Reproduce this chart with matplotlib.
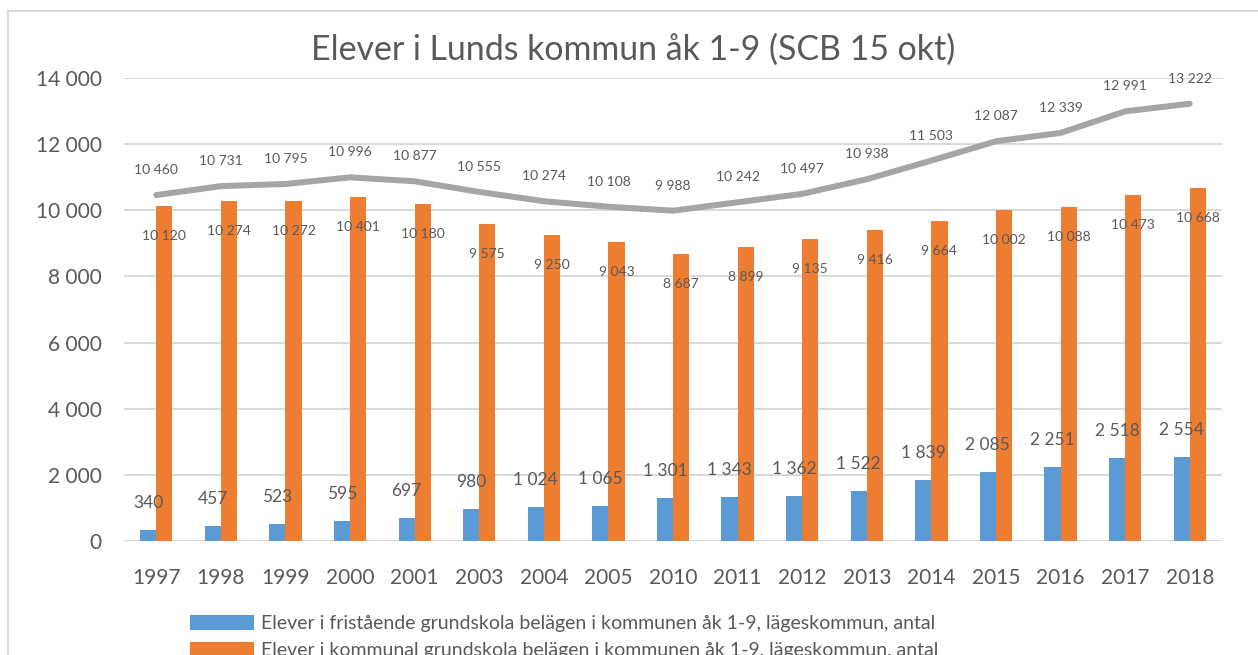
import matplotlib
matplotlib.use("Agg")
import matplotlib.pyplot as plt
from matplotlib.patches import Rectangle, Patch
import numpy as np

years = ["1997", "1998", "1999", "2000", "2001", "2003", "2004", "2005", "2010",
         "2011", "2012", "2013", "2014", "2015", "2016", "2017", "2018"]
fristaende = [340, 457, 523, 595, 697, 980, 1024, 1065, 1301, 1343, 1362, 1522,
              1839, 2085, 2251, 2518, 2554]
kommunal = [10120, 10274, 10272, 10401, 10180, 9575, 9250, 9043, 8687, 8899,
            9135, 9416, 9664, 10002, 10088, 10473, 10668]
totalt = [10460, 10731, 10795, 10996, 10877, 10555, 10274, 10108, 9988, 10242,
          10497, 10938, 11503, 12087, 12339, 12991, 13222]
yticks = [0, 2000, 4000, 6000, 8000, 10000, 12000, 14000]
title = "Elever i Lunds kommun åk 1-9 (SCB 15 okt)"
leg_labels = ["Elever i fristående grundskola belägen i kommunen åk 1-9, lägeskommun, antal",
              "Elever i kommunal grundskola belägen i kommunen åk 1-9, lägeskommun, antal"]

BLUE = "#5b9bd5"
ORANGE = "#ed7d31"
GRAY = "#a5a5a5"
TXT = "#595959"
GRID = "#d9d9d9"
FONT = ["Lato", "DejaVu Sans"]

plt.rcParams['font.family'] = FONT

W, H = 1258, 655
fig = plt.figure(figsize=(W / 100, H / 100), dpi=100)
px = 72 / 100  # points per pixel

# outer frame (cropped chart area)
fig.patches.append(Rectangle((8 / W, -0.1), 1.2, 1 - 11 / H + 0.1, transform=fig.transFigure,
                             fill=False, edgecolor=GRID, linewidth=2 * px))

left, right = 124 / W, 1222 / W
bottom, top = 1 - 541 / H, 1 - 78 / H
ax = fig.add_axes([left, bottom, right - left, top - bottom])

x = np.arange(len(years))
bw = 0.25
ax.bar(x - bw / 2, fristaende, width=bw, color=BLUE, zorder=2)
ax.bar(x + bw / 2, kommunal, width=bw, color=ORANGE, zorder=2)
ax.plot(x, totalt, color=GRAY, linewidth=6 * px, solid_capstyle="round", zorder=3)

def fmt(v):
    return f"{v:,}".replace(",", " ")

for xi, v in zip(x, fristaende):
    ax.annotate(fmt(v), (xi - bw / 2, v), xytext=(0, 27 * px), textcoords="offset points",
                ha="center", va="center", fontsize=12.5, color=TXT, zorder=4)
for xi, v in zip(x, kommunal):
    ax.annotate(fmt(v), (xi + bw / 2, v), xytext=(0, -30 * px), textcoords="offset points",
                ha="center", va="center", fontsize=10, color=TXT, zorder=4)
for xi, v in zip(x, totalt):
    ax.annotate(fmt(v), (xi, v), xytext=(0, 25 * px), textcoords="offset points",
                ha="center", va="center", fontsize=10, color=TXT, zorder=4)

ax.set_xlim(-0.5, len(years) - 0.5)
ax.set_ylim(0, 14000)
ax.set_yticks(yticks)
ax.set_yticklabels([fmt(t) for t in yticks])
ax.set_xticks(x)
ax.set_xticklabels(years)
ax.tick_params(axis="both", length=0, colors=TXT, labelsize=15)
ax.tick_params(axis="y", pad=22 * px)
ax.tick_params(axis="x", pad=27 * px)
ax.grid(axis="y", color=GRID, linewidth=2 * px, zorder=0)
ax.set_axisbelow(True)
for s in ax.spines.values():
    s.set_visible(False)

fig.text(633 / W, 1 - 50 / H, title, ha="center", va="center", fontsize=24.4, color=TXT)

handles = [Patch(facecolor=BLUE), Patch(facecolor=ORANGE)]
fs = 14
fs_px = fs / px
leg = fig.legend(handles, leg_labels, loc="upper left", bbox_to_anchor=(190 / W, 1 - 615 / H),
                 frameon=False, fontsize=fs, labelcolor=TXT, handlelength=64 / fs_px,
                 handleheight=16 / fs_px, handletextpad=7 / fs_px, labelspacing=0.5,
                 borderaxespad=0, borderpad=0)

fig.savefig("out.png", dpi=100)
